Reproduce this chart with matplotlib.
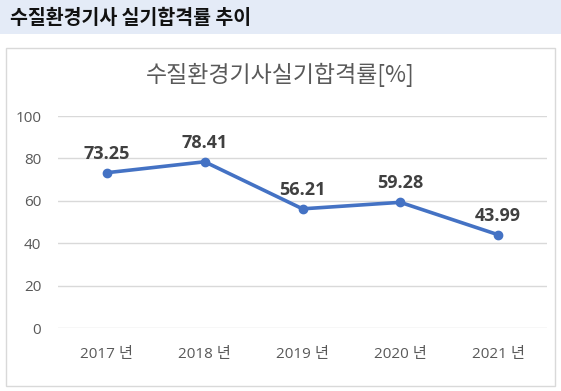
import matplotlib.pyplot as plt
from matplotlib.patches import Rectangle

plt.rcParams['font.family'] = ['Open Sans', 'Noto Sans CJK KR', 'DejaVu Sans']

# --- data ---
years = ["2017 년", "2018 년", "2019 년", "2020 년", "2021 년"]
pass_rate = [73.25, 78.41, 56.21, 59.28, 43.99]
y_ticks = [0, 20, 40, 60, 80, 100]

W, H = 561, 391
fig = plt.figure(figsize=(W / 100, H / 100), dpi=100)

# header band
fig.add_artist(Rectangle((0, 1 - 34 / H), 1, 34 / H, transform=fig.transFigure,
                         facecolor="#E4EBF7", edgecolor="none", zorder=0))
fig.text(10 / W, 1 - 18 / H, "수질환경기사 실기합격률 추이", fontsize=14, fontweight="bold",
         color="#111111", va="center", ha="left", family=["Noto Sans CJK KR"])

# chart frame
fig.add_artist(Rectangle((6 / W, 1 - 386 / H), 549 / W, 338 / H, transform=fig.transFigure,
                         facecolor="white", edgecolor="#D9D9D9", linewidth=1, zorder=0))
fig.text(280 / W, 1 - 75 / H, "수질환경기사실기합격률[%]", fontsize=16.5, color="#595959",
         ha="center", va="center", family=["Noto Sans CJK KR"])

ax = fig.add_axes([58 / W, 1 - 328 / H, 489 / W, 212 / H])
ax.set_zorder(2)
x = list(range(len(years)))
ax.plot(x, pass_rate, color="#4472C4", linewidth=2.6, marker="o", markersize=6, zorder=3)

for xi, v in zip(x, pass_rate):
    ax.annotate(f"{v:.2f}", (xi, v), xytext=(0, 10), textcoords="offset points",
                ha="center", va="baseline", fontsize=13, fontweight="bold", color="#404040")

ax.set_xlim(-0.5, len(years) - 0.5)
ax.set_ylim(0, 100)
ax.set_yticks(y_ticks)
ax.set_xticks(x)
ax.set_xticklabels(years)
ax.tick_params(axis="both", length=0, labelsize=11, labelcolor="#595959")
ax.tick_params(axis="x", pad=14)
ax.tick_params(axis="y", pad=12)
ax.grid(axis="y", color="#D9D9D9", linewidth=1)
ax.set_axisbelow(True)
for s in ax.spines.values():
    s.set_visible(False)
ax.patch.set_alpha(0)

fig.savefig("out.png", dpi=100)
